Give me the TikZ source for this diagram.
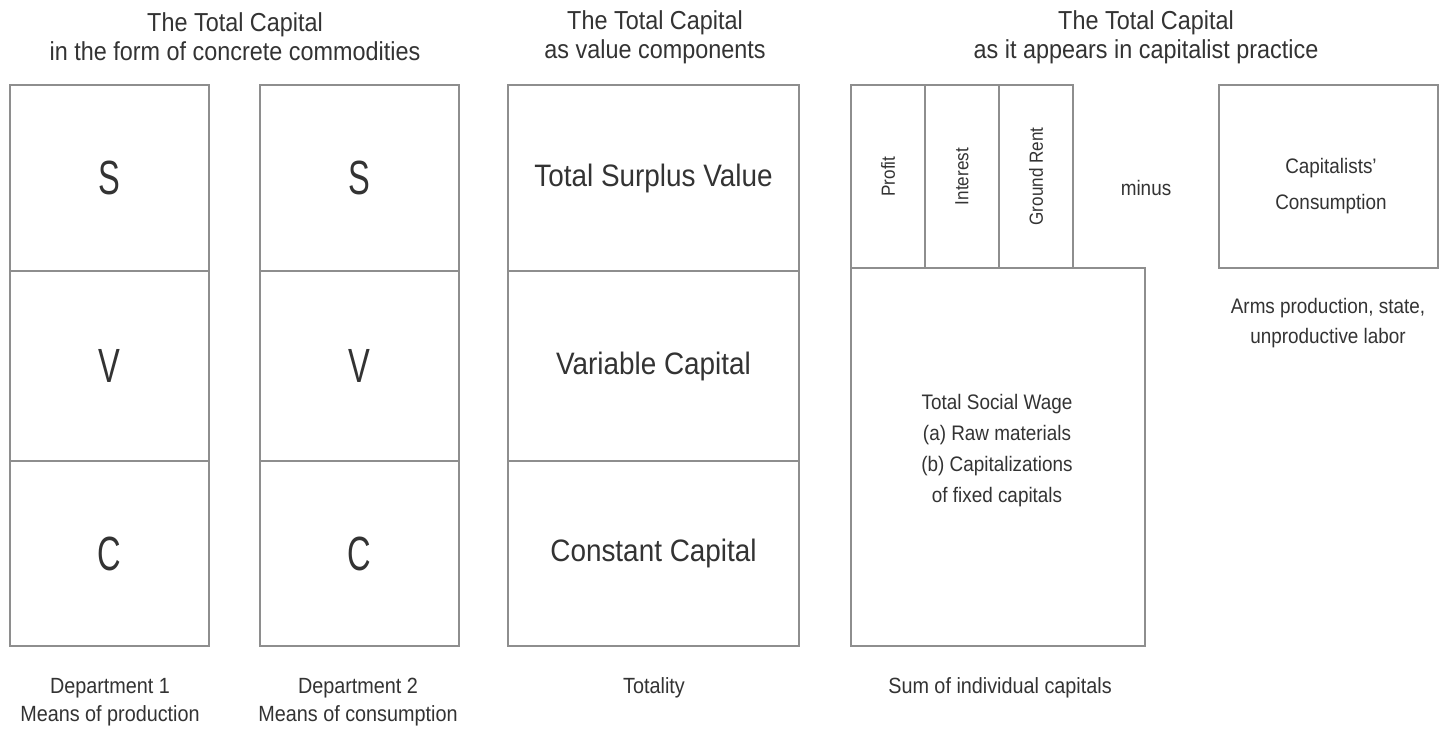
\documentclass[tikz,border=0pt]{standalone}
\usepackage{fontspec}
\setmainfont{Liberation Sans}[FakeStretch=0.9]
\newfontfamily\bigletters{Liberation Sans}[FakeStretch=0.68]
\definecolor{linec}{HTML}{8E8E8E}
\definecolor{textc}{HTML}{333333}
\begin{document}
\begin{tikzpicture}[x=1pt,y=-1pt,
  cell/.style={draw=linec, line width=2pt, rectangle, inner sep=0pt, text=textc, align=center},
  lbl/.style={text=textc, align=center, inner sep=0pt},
  title/.style={lbl, font=\fontsize{26}{29}\selectfont},
  letter/.style={font=\bigletters\fontsize{48}{52}\selectfont},
  comp/.style={font=\fontsize{31}{35}\selectfont},
  small/.style={lbl, font=\fontsize{21}{31}\selectfont},
  rot/.style={rotate=90, font=\fontsize{19}{22}\selectfont}
]
\path[use as bounding box, fill=white] (0,0) rectangle (1439,731);

% Titles
\node[title] (t1) at (235,37) {The Total Capital\\in the form of concrete commodities};
\node[title] (t2) at (655,37) {The Total Capital\\as value components};
\node[title] (t3) at (1146,37) {The Total Capital\\as it appears in capitalist practice};

% Department 1
\node[cell, letter, minimum width=199pt, minimum height=186pt] (d1s) at (109.5,178) {S};
\node[cell, letter, minimum width=199pt, minimum height=190pt] (d1v) at (109.5,366) {V};
\node[cell, letter, minimum width=199pt, minimum height=185pt] (d1c) at (109.5,553.5) {C};

% Department 2
\node[cell, letter, minimum width=199pt, minimum height=186pt] (d2s) at (359.5,178) {S};
\node[cell, letter, minimum width=199pt, minimum height=190pt] (d2v) at (359.5,366) {V};
\node[cell, letter, minimum width=199pt, minimum height=185pt] (d2c) at (359.5,553.5) {C};

% Totality
\node[cell, comp, minimum width=291pt, minimum height=186pt] (ts) at (653.5,178) {Total Surplus Value};
\node[cell, comp, minimum width=291pt, minimum height=190pt] (tv) at (653.5,366) {Variable Capital};
\node[cell, comp, minimum width=291pt, minimum height=185pt] (tc) at (653.5,553.5) {Constant Capital};

% Capitalist practice
\node[cell, minimum width=74pt, minimum height=183pt] (pr) at (888,176.5) {};
\node[cell, minimum width=74pt, minimum height=183pt] (in) at (962,176.5) {};
\node[cell, minimum width=74pt, minimum height=183pt] (gr) at (1036,176.5) {};
\node[lbl, rot] (prt) at (pr.center) {Profit};
\node[lbl, rot] (int) at (in.center) {Interest};
\node[lbl, rot] (grt) at (gr.center) {Ground Rent};

\node[cell, minimum width=294pt, minimum height=378pt] (sw) at (998,457) {};
\node[small] (swt) at (997,451) {Total Social Wage\\(a) Raw materials\\(b) Capitalizations\\of fixed capitals};

\node[small] (minus) at (1146,188) {minus};

\node[cell, minimum width=219pt, minimum height=183pt] (cc) at (1328.5,176.5) {};
\node[small, font=\fontsize{21}{36}\selectfont] (cct) at (1331,186) {Capitalists'\\Consumption};

\node[small, font=\fontsize{21}{30}\selectfont] (arms) at (1328,323) {Arms production, state,\\unproductive labor};

% Bottom labels
\node[small, font=\fontsize{22}{28}\selectfont] (b1) at (110,702) {Department 1\\Means of production};
\node[small, font=\fontsize{22}{28}\selectfont] (b2) at (358,702) {Department 2\\Means of consumption};
\node[small, font=\fontsize{22}{28}\selectfont] (b3) at (654,688) {Totality};
\node[small, font=\fontsize{22}{28}\selectfont] (b4) at (1000,688) {Sum of individual capitals};
\end{tikzpicture}
\end{document}
